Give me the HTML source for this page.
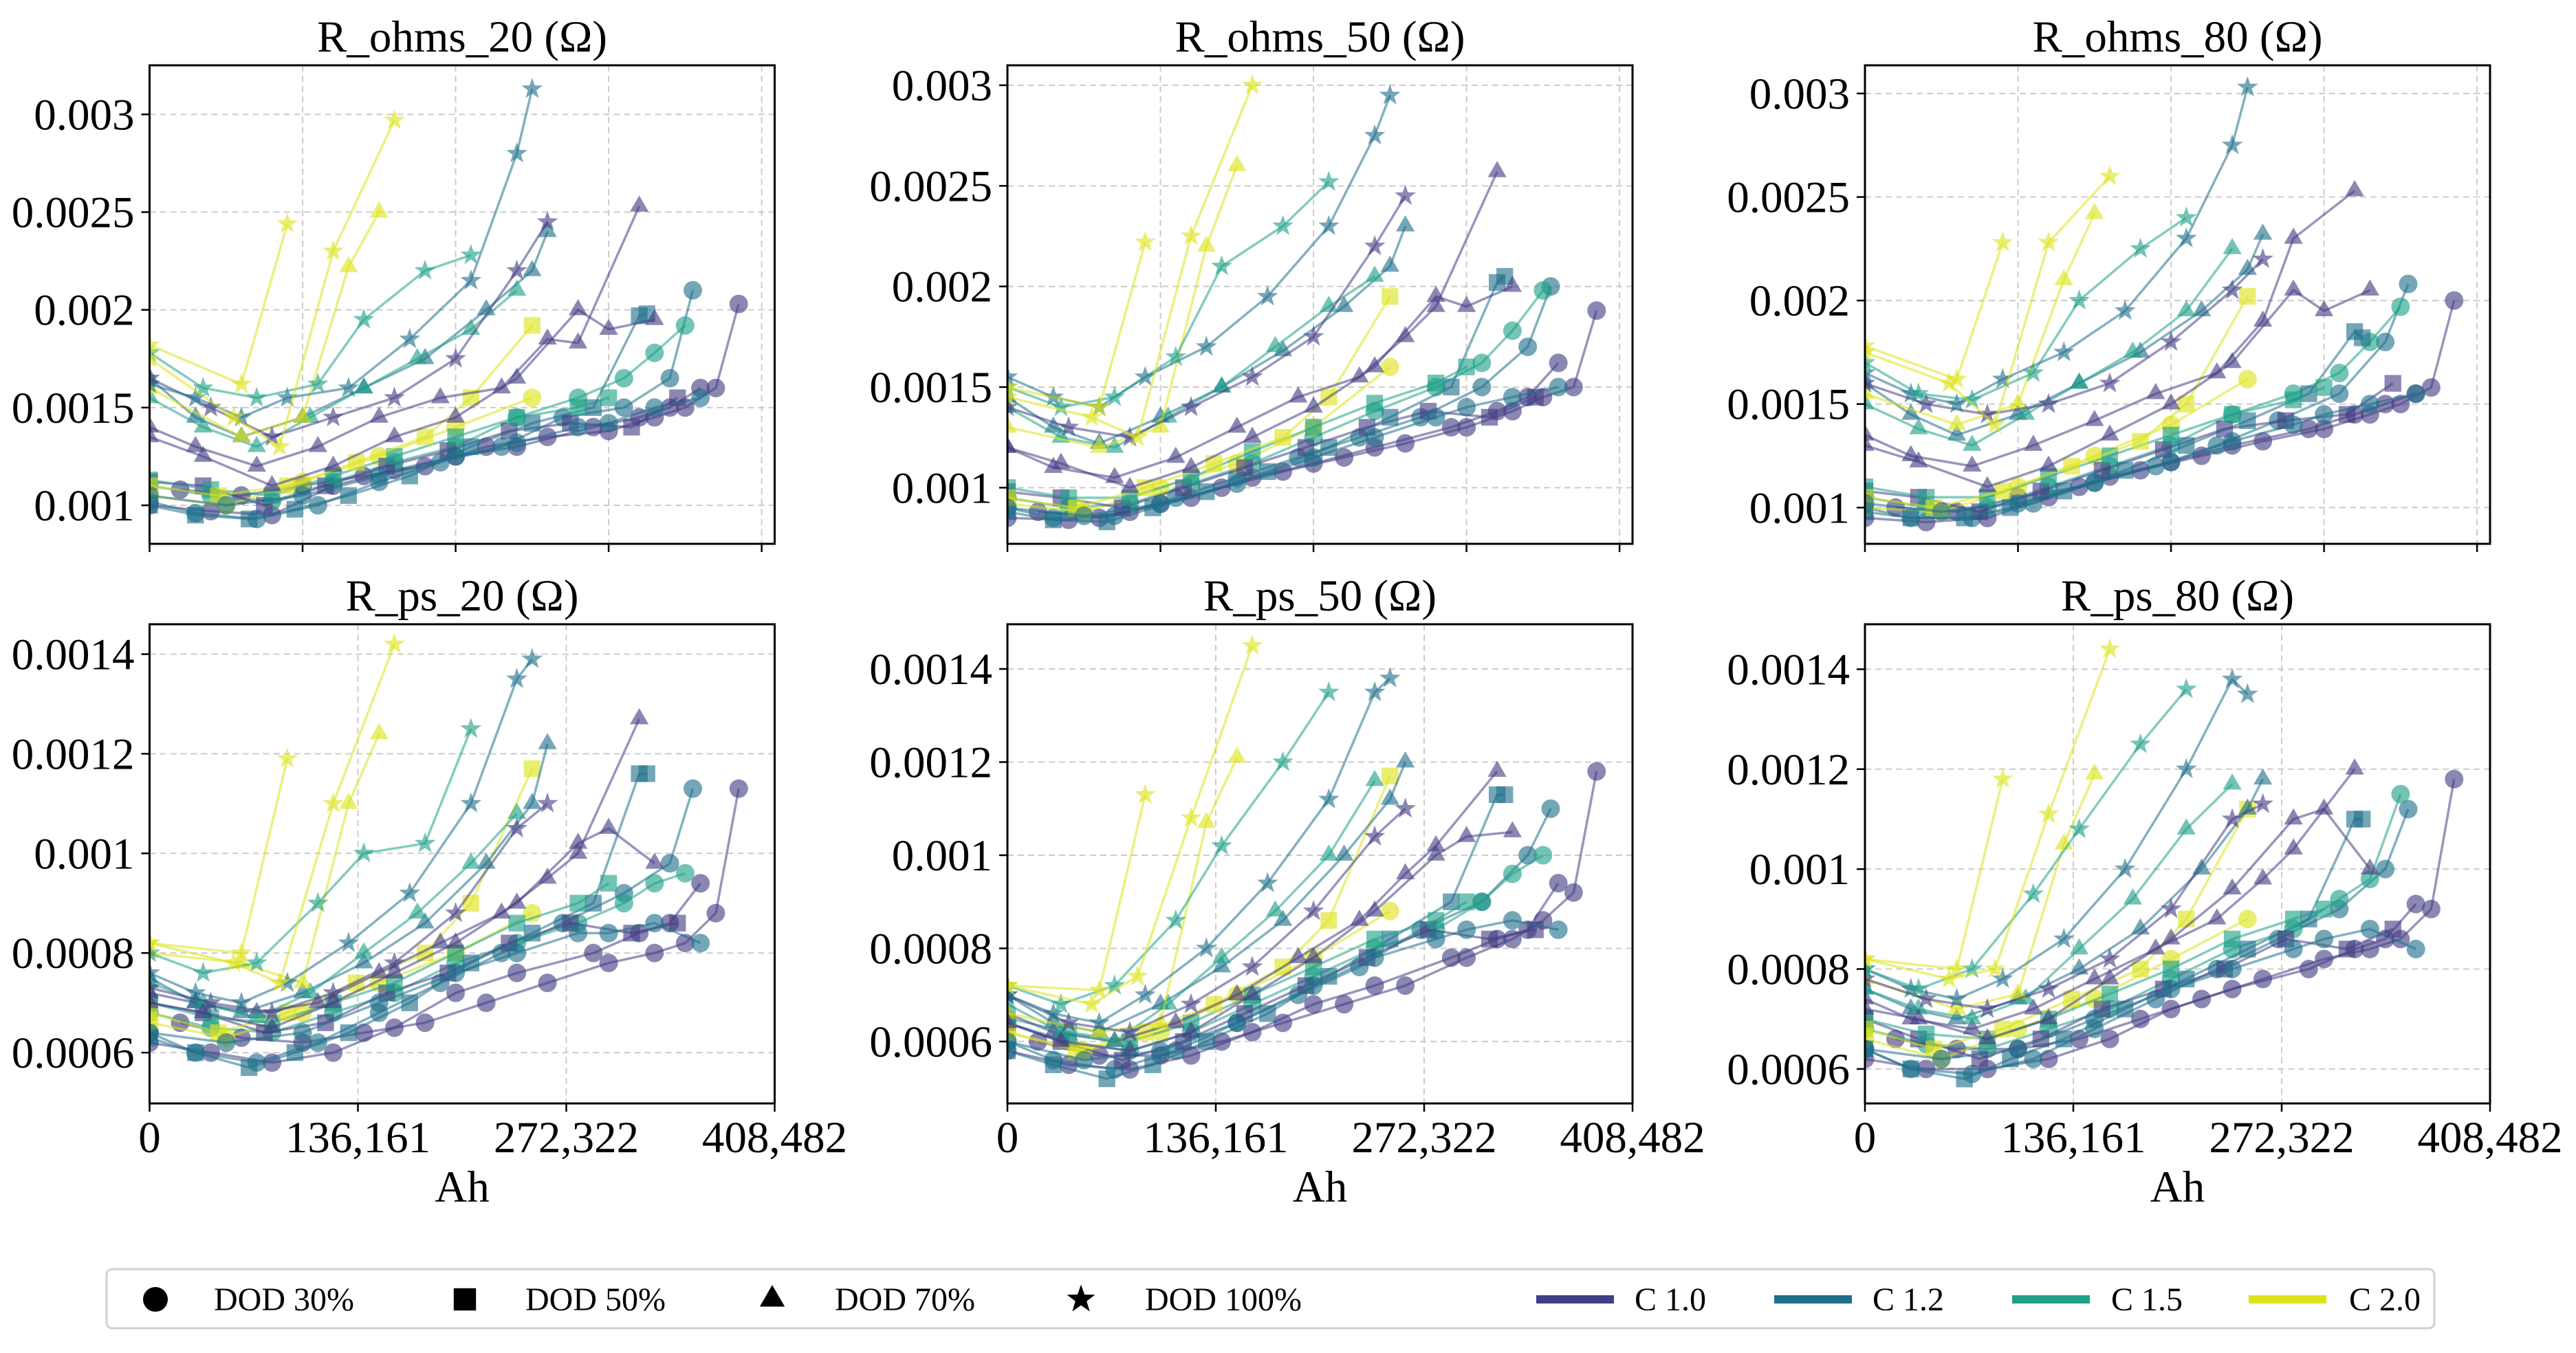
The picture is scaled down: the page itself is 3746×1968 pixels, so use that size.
<!DOCTYPE html>
<html><head><meta charset="utf-8"><style>
html,body{margin:0;padding:0;background:#fff;}
svg{display:block;font-family:"Liberation Serif","DejaVu Serif",serif;}
</style></head><body>
<svg id="chart" xmlns="http://www.w3.org/2000/svg" width="3746" height="1968" viewBox="0 0 3746 1968"></svg>
<script>
// ---- data (x in kAh, y in milliohms) ----
const seriesDod = [30,30,30,30,30,50,50,50,50,70,70,70,70,100,100,100,100,100,70,30];
const seriesC = [1.0,1.0,1.2,1.5,2.0,1.0,1.2,1.5,2.0,1.0,1.2,1.5,2.0,1.0,1.2,1.5,2.0,2.0,1.0,1.2];
const seriesX = [
[20,60,100,140,180,220,260,300,330,350,370,385],
[0,40,80,120,160,200,240,290,320,340,360],
[0,30,70,110,150,190,230,270,310,340,355],
[0,40,80,120,160,200,240,280,310,330,350],
[0,50,100,150,200,250],
[0,35,75,115,155,195,235,275,315,345],
[0,30,65,95,130,170,210,250,290,320,325],
[0,40,80,120,160,200,240,280,300],
[0,45,90,135,180,210,250],
[0,30,70,110,150,190,230,260,280,320],
[0,30,60,100,140,180,220,250,260],
[0,35,70,105,140,175,210,240],
[0,60,100,130,150],
[0,40,80,120,160,200,240,260],
[0,30,60,90,130,170,210,240,250],
[0,35,70,110,140,180,210],
[0,55,85,120,160],
[0,60,90],
[0,35,80,120,160,200,240,280,300,330],
[0,50,100,150,200,240,280,300,330,360]
];
const yOhms20 = [
[1.08,1.05,1.1,1.15,1.2,1.3,1.35,1.38,1.45,1.5,1.6,2.03],
[1.0,0.97,0.95,1.1,1.18,1.25,1.3,1.4,1.45,1.5,1.6],
[1.02,0.96,0.93,1.0,1.12,1.22,1.3,1.45,1.5,1.65,2.1],
[1.1,1.05,1.02,1.12,1.22,1.3,1.45,1.55,1.65,1.78,1.92],
[1.05,1.0,1.12,1.25,1.4,1.55],
[1.12,1.1,1.0,1.1,1.2,1.28,1.38,1.42,1.4,1.55],
[1.0,0.95,0.93,0.98,1.05,1.15,1.3,1.42,1.5,1.97,1.98],
[1.13,1.08,1.05,1.15,1.25,1.35,1.45,1.5,1.55],
[1.1,1.05,1.1,1.22,1.35,1.55,1.92],
[1.4,1.3,1.2,1.3,1.45,1.55,1.6,1.85,1.83,2.53],
[1.65,1.45,1.35,1.45,1.6,1.75,2.0,2.2,2.4],
[1.55,1.4,1.3,1.45,1.6,1.75,1.9,2.1],
[1.6,1.35,1.45,2.22,2.5],
[1.65,1.5,1.35,1.45,1.55,1.75,2.2,2.45],
[1.62,1.55,1.45,1.55,1.6,1.85,2.15,2.8,3.13],
[1.78,1.6,1.55,1.62,1.95,2.2,2.28],
[1.75,1.45,1.3,2.3,2.97],
[1.82,1.62,2.44],
[1.35,1.25,1.1,1.2,1.35,1.45,1.65,2.0,1.9,1.95],
[1.05,1.0,1.05,1.15,1.25,1.32,1.4,1.42,1.5,1.55]
];
const yOhms50 = [
[0.88,0.85,0.92,1.0,1.08,1.15,1.22,1.3,1.38,1.45,1.5,1.88],
[0.85,0.84,0.88,0.95,1.05,1.12,1.2,1.3,1.38,1.45,1.62],
[0.9,0.85,0.86,0.95,1.05,1.15,1.25,1.35,1.5,1.7,2.0],
[0.95,0.9,0.92,1.02,1.12,1.25,1.38,1.5,1.62,1.78,1.98],
[0.92,0.88,1.0,1.12,1.3,1.6],
[0.98,0.95,0.9,1.0,1.1,1.2,1.3,1.38,1.35,1.45],
[0.88,0.84,0.83,0.9,0.98,1.08,1.2,1.35,1.5,2.02,2.05],
[1.0,0.95,0.95,1.05,1.18,1.3,1.42,1.52,1.6],
[0.95,0.9,1.0,1.12,1.25,1.45,1.95],
[1.2,1.1,1.05,1.15,1.3,1.45,1.55,1.75,1.9,2.57],
[1.45,1.3,1.22,1.35,1.5,1.68,1.9,2.1,2.3],
[1.4,1.25,1.2,1.35,1.5,1.7,1.9,2.05],
[1.3,1.2,1.3,2.2,2.6],
[1.4,1.3,1.25,1.4,1.55,1.75,2.2,2.45],
[1.55,1.45,1.4,1.55,1.7,1.95,2.3,2.75,2.95],
[1.5,1.4,1.45,1.65,2.1,2.3,2.52],
[1.45,1.35,1.25,2.25,3.0],
[1.5,1.4,2.22],
[1.2,1.12,1.0,1.1,1.25,1.4,1.6,1.95,1.9,2.0],
[0.9,0.86,0.92,1.02,1.15,1.25,1.35,1.4,1.45,1.5]
];
const yOhms80 = [
[1.0,0.98,1.05,1.1,1.18,1.25,1.32,1.38,1.45,1.5,1.58,2.0],
[0.95,0.93,0.95,1.05,1.15,1.22,1.3,1.38,1.45,1.5,1.55],
[1.0,0.95,0.95,1.02,1.12,1.2,1.3,1.42,1.55,1.8,2.08],
[1.05,1.0,1.0,1.1,1.2,1.3,1.45,1.55,1.65,1.8,1.97],
[1.0,0.98,1.1,1.25,1.4,1.62],
[1.08,1.05,0.98,1.08,1.18,1.28,1.38,1.42,1.45,1.6],
[0.98,0.95,0.95,1.0,1.08,1.18,1.3,1.42,1.55,1.85,1.82],
[1.1,1.05,1.05,1.15,1.25,1.35,1.45,1.52,1.58],
[1.05,1.0,1.08,1.2,1.32,1.5,2.02],
[1.35,1.25,1.2,1.3,1.42,1.55,1.65,1.9,2.3,2.53],
[1.6,1.45,1.35,1.45,1.6,1.75,1.95,2.15,2.32],
[1.5,1.38,1.3,1.45,1.6,1.75,1.95,2.25],
[1.55,1.4,1.5,2.1,2.42],
[1.6,1.5,1.45,1.5,1.6,1.8,2.05,2.2],
[1.65,1.55,1.5,1.62,1.75,1.95,2.3,2.75,3.03],
[1.7,1.55,1.52,1.65,2.0,2.25,2.4],
[1.75,1.6,1.4,2.28,2.6],
[1.78,1.62,2.28],
[1.3,1.22,1.1,1.2,1.35,1.5,1.7,2.05,1.95,2.05],
[1.02,0.98,1.02,1.12,1.22,1.32,1.4,1.45,1.5,1.55]
];
const yPs20 = [
[0.66,0.63,0.62,0.64,0.66,0.7,0.74,0.78,0.8,0.82,0.88,1.13],
[0.62,0.6,0.58,0.6,0.65,0.72,0.76,0.8,0.84,0.86,0.94],
[0.64,0.6,0.58,0.62,0.68,0.74,0.8,0.86,0.92,0.98,1.13],
[0.68,0.65,0.64,0.68,0.72,0.78,0.82,0.86,0.9,0.94,0.96],
[0.66,0.63,0.68,0.74,0.8,0.88],
[0.7,0.68,0.64,0.66,0.72,0.76,0.82,0.86,0.84,0.86],
[0.63,0.6,0.57,0.6,0.64,0.7,0.78,0.84,0.9,1.16,1.16],
[0.7,0.67,0.66,0.7,0.74,0.8,0.86,0.9,0.94],
[0.68,0.64,0.68,0.74,0.8,0.9,1.17],
[0.72,0.7,0.68,0.7,0.76,0.82,0.88,0.95,1.0,1.27],
[0.75,0.7,0.68,0.72,0.78,0.86,0.98,1.1,1.22],
[0.74,0.7,0.67,0.72,0.8,0.88,0.98,1.08],
[0.8,0.78,0.74,1.1,1.24],
[0.73,0.7,0.68,0.72,0.78,0.88,1.05,1.1],
[0.76,0.72,0.7,0.74,0.82,0.92,1.1,1.35,1.39],
[0.8,0.76,0.78,0.9,1.0,1.02,1.25],
[0.82,0.78,0.74,1.1,1.42],
[0.82,0.8,1.19],
[0.7,0.68,0.65,0.7,0.76,0.82,0.9,1.02,1.05,0.98],
[0.64,0.62,0.64,0.7,0.76,0.8,0.84,0.84,0.86,0.82]
];
const yPs50 = [
[0.6,0.57,0.57,0.6,0.64,0.68,0.72,0.78,0.82,0.86,0.92,1.18],
[0.58,0.55,0.54,0.57,0.62,0.68,0.72,0.78,0.82,0.84,0.94],
[0.6,0.56,0.54,0.58,0.64,0.7,0.76,0.84,0.9,1.0,1.1],
[0.64,0.6,0.58,0.62,0.68,0.74,0.8,0.84,0.9,0.96,1.0],
[0.62,0.58,0.62,0.7,0.78,0.88],
[0.64,0.6,0.56,0.6,0.66,0.72,0.78,0.84,0.82,0.84],
[0.58,0.55,0.52,0.55,0.6,0.66,0.74,0.82,0.9,1.13,1.13],
[0.65,0.62,0.6,0.64,0.7,0.76,0.82,0.86,0.9],
[0.62,0.58,0.62,0.68,0.76,0.86,1.17],
[0.66,0.62,0.6,0.64,0.7,0.78,0.86,0.96,1.02,1.18],
[0.7,0.64,0.62,0.68,0.76,0.86,1.0,1.12,1.2],
[0.68,0.62,0.6,0.68,0.78,0.88,1.0,1.16],
[0.66,0.62,0.64,1.07,1.21],
[0.7,0.64,0.62,0.68,0.76,0.88,1.04,1.1],
[0.7,0.66,0.64,0.7,0.8,0.94,1.12,1.35,1.38],
[0.72,0.68,0.72,0.86,1.02,1.2,1.35],
[0.72,0.68,0.74,1.08,1.45],
[0.72,0.71,1.13],
[0.64,0.6,0.58,0.62,0.7,0.78,0.88,1.0,1.04,1.05],
[0.6,0.56,0.58,0.64,0.72,0.78,0.82,0.84,0.86,0.84]
];
const yPs80 = [
[0.66,0.64,0.64,0.66,0.7,0.74,0.78,0.82,0.84,0.86,0.92,1.18],
[0.62,0.6,0.6,0.62,0.66,0.72,0.76,0.8,0.84,0.86,0.93],
[0.64,0.6,0.59,0.62,0.68,0.74,0.8,0.86,0.92,1.0,1.12],
[0.68,0.65,0.64,0.68,0.72,0.78,0.84,0.88,0.94,0.98,1.15],
[0.66,0.62,0.68,0.74,0.82,0.9],
[0.7,0.66,0.62,0.66,0.72,0.76,0.8,0.86,0.84,0.88],
[0.64,0.6,0.58,0.62,0.66,0.72,0.78,0.84,0.9,1.1,1.1],
[0.7,0.67,0.66,0.7,0.75,0.8,0.86,0.9,0.92],
[0.68,0.64,0.68,0.74,0.8,0.9,1.12],
[0.74,0.7,0.68,0.72,0.78,0.84,0.9,0.98,1.04,1.2],
[0.76,0.72,0.7,0.74,0.8,0.88,1.0,1.12,1.18],
[0.76,0.72,0.7,0.74,0.84,0.94,1.08,1.17],
[0.78,0.72,0.75,1.05,1.19],
[0.78,0.74,0.72,0.76,0.82,0.92,1.1,1.13],
[0.8,0.76,0.74,0.78,0.86,1.0,1.2,1.38,1.35],
[0.8,0.76,0.8,0.95,1.08,1.25,1.36],
[0.82,0.78,0.8,1.11,1.44],
[0.82,0.8,1.18],
[0.72,0.7,0.66,0.7,0.78,0.86,0.96,1.1,1.12,1.0],
[0.64,0.62,0.64,0.7,0.76,0.8,0.84,0.86,0.88,0.84]
];
const topYTicks = [1.0,1.5,2.0,2.5,3.0];
const topYTickLabels = ["0.001","0.0015","0.002","0.0025","0.003"];
const botYTicks = [0.6,0.8,1.0,1.2,1.4];
const botYTickLabels = ["0.0006","0.0008","0.001","0.0012","0.0014"];
const topXGrid = [100,200,300,400];
const botXTicks = [0,136.161,272.322,408.482];
const botXTickLabels = ["0","136,161","272,322","408,482"];
const xMax = 408.482;
const panelTitles = ["R_ohms_20 (Ω)","R_ohms_50 (Ω)","R_ohms_80 (Ω)","R_ps_20 (Ω)","R_ps_50 (Ω)","R_ps_80 (Ω)"];
const dodLabels = ["DOD 30%","DOD 50%","DOD 70%","DOD 100%"];
const cLabels = ["C 1.0","C 1.2","C 1.5","C 2.0"];

// ---- layout ----
const NS = "http://www.w3.org/2000/svg";
const svg = document.getElementById('chart');
const colorMap = {"1":"#433e85","1.2":"#1f6f8b","1.5":"#1fa088","2":"#dde318"};
const dodList = [30,50,70,100];
const cols = [217.5, 1465, 2712];
const PW = 909;
const rows = [{top:95,bot:791},{top:908,bot:1605}];
const panels = [
 {ys:yOhms20,ymin:0.803,ymax:3.251,row:0,col:0,name:'r-ohms-20'},
 {ys:yOhms50,ymin:0.721,ymax:3.099,row:0,col:1,name:'r-ohms-50'},
 {ys:yOhms80,ymin:0.825,ymax:3.136,row:0,col:2,name:'r-ohms-80'},
 {ys:yPs20,ymin:0.498,ymax:1.460,row:1,col:0,name:'r-ps-20'},
 {ys:yPs50,ymin:0.467,ymax:1.496,row:1,col:1,name:'r-ps-50'},
 {ys:yPs80,ymin:0.531,ymax:1.490,row:1,col:2,name:'r-ps-80'}
];
function mk(tag, attrs, parent){ const e=document.createElementNS(NS,tag); for(const k in attrs) e.setAttribute(k,attrs[k]); (parent||svg).appendChild(e); return e; }
function markerShape(dod, cx, cy, s, parent, fill, op){
  let e;
  if(dod===30){ e=mk('circle',{cx:cx,cy:cy,r:s*0.5},parent); }
  else if(dod===50){ e=mk('rect',{x:cx-s*0.45,y:cy-s*0.45,width:s*0.9,height:s*0.9},parent); }
  else if(dod===70){ const r=s*0.58; e=mk('polygon',{points:`${cx},${cy-r} ${cx+r*0.87},${cy+r*0.5} ${cx-r*0.87},${cy+r*0.5}`},parent); }
  else { const R=s*0.6, r=R*0.4; let p=[]; for(let i=0;i<10;i++){ const a=-Math.PI/2+i*Math.PI/5; const rr=i%2?r:R; p.push((cx+rr*Math.cos(a)).toFixed(1)+','+(cy+rr*Math.sin(a)).toFixed(1)); } e=mk('polygon',{points:p.join(' ')},parent); }
  e.setAttribute('fill',fill); if(op!==undefined) e.setAttribute('fill-opacity',op);
  return e;
}
const defs = mk('defs',{});
panels.forEach((p,pi)=>{
  const L=cols[p.col], R=L+PW, T=rows[p.row].top, B=rows[p.row].bot;
  const xs = v => L + v/xMax*PW;
  const ys = v => B - (v-p.ymin)/(p.ymax-p.ymin)*(B-T);
  const g = mk('g',{});
  
  
  const cp = mk('clipPath',{id:'cp'+pi},defs); mk('rect',{x:L,y:T,width:PW,height:B-T},cp);
  const grid = mk('g',{stroke:'#cccccc','stroke-width':2,'stroke-dasharray':'9,6'},g);
   
  const yt = p.row===0?topYTicks:botYTicks, ytl = p.row===0?topYTickLabels:botYTickLabels;
  yt.forEach(v=>{ mk('line',{x1:L,x2:R,y1:ys(v),y2:ys(v)},grid); });
  const xg = p.row===0?topXGrid:botXTicks;
  xg.forEach(v=>{ mk('line',{x1:xs(v),x2:xs(v),y1:T,y2:B},grid); });
  const sg = mk('g',{'clip-path':`url(#cp${pi})`},g);
   
  seriesX.forEach((xa,si)=>{
    const ya=p.ys[si]; const col=colorMap[String(seriesC[si])];
    const pts = xa.map((x,i)=>xs(x).toFixed(1)+','+ys(ya[i]).toFixed(1)).join(' ');
    const line = mk('polyline',{points:pts,fill:'none',stroke:col,'stroke-width':3.5,'stroke-opacity':0.55},sg);
    
    
    xa.forEach((x,i)=>{
      const m = markerShape(seriesDod[si], xs(x), ys(ya[i]), 27, sg, col, 0.62);
      
      
    });
  });
  const fr = mk('rect',{x:L,y:T,width:PW,height:B-T,fill:'none',stroke:'#000','stroke-width':3},g);
   
  yt.forEach((v,i)=>{
    mk('line',{x1:L-12,x2:L,y1:ys(v),y2:ys(v),stroke:'#000','stroke-width':2.5},g);
    const t = mk('text',{x:L-22,y:ys(v)+22,'text-anchor':'end','font-size':65},g);
    t.textContent = ytl[i];
     
  });
  const xt = p.row===0?topXGrid.concat([0]):botXTicks;
  xt.forEach(v=>{ mk('line',{x1:xs(v),x2:xs(v),y1:B,y2:B+12,stroke:'#000','stroke-width':2.5},g); });
  if(p.row===1){
    botXTicks.forEach((v,i)=>{
      const t = mk('text',{x:xs(v),y:1676,'text-anchor':'middle','font-size':65},g);
      t.textContent = botXTickLabels[i];
       
    });
    const ah = mk('text',{x:L+PW/2,y:1748,'text-anchor':'middle','font-size':65},g);
    ah.textContent='Ah';
     
  }
  const tt = mk('text',{x:L+PW/2,y:T-20,'text-anchor':'middle','font-size':65},g);
  tt.textContent = panelTitles[pi];
   
});
const lg = mk('g',{});
 
const lb = mk('rect',{x:155,y:1846,width:3385,height:86,rx:8,fill:'#fff',stroke:'#d0d0d0','stroke-width':3},lg);
 
const dodMX=[226,676,1123,1572], dodTX=[311,764,1214,1665];
dodList.forEach((d,i)=>{
  const m = markerShape(d, dodMX[i], 1890, 36, lg, '#000');
   
  const t = mk('text',{x:dodTX[i],y:1906,'font-size':48},lg); t.textContent=dodLabels[i];
   
});
const cLX=[2234,2580,2926,3270], cTX=[2377,2723,3070,3416], cKeys=["1","1.2","1.5","2"];
cKeys.forEach((k,i)=>{
  const l = mk('line',{x1:cLX[i],x2:cLX[i]+113,y1:1890,y2:1890,stroke:colorMap[k],'stroke-width':12},lg);
   
  const t = mk('text',{x:cTX[i],y:1906,'font-size':48},lg); t.textContent=cLabels[i];
   
});
</script>
</body></html>
